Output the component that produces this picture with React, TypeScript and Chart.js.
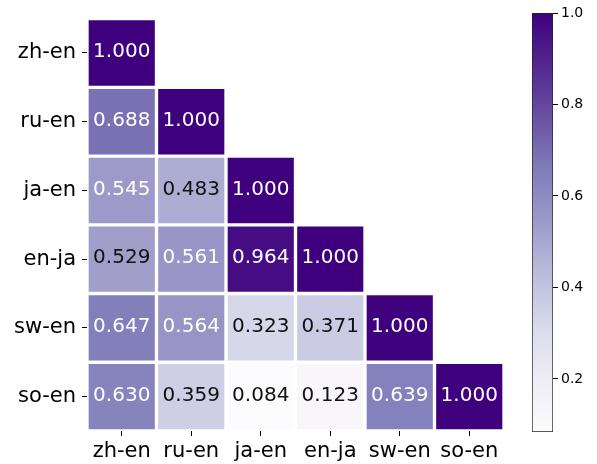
import React, { useEffect, useRef } from "react";
import { Chart, registerables } from "chart.js";

Chart.register(...registerables);

const categories = ["zh-en", "ru-en", "ja-en", "en-ja", "sw-en", "so-en"];
const zhEn = [1.0];
const ruEn = [0.688, 1.0];
const jaEn = [0.545, 0.483, 1.0];
const enJa = [0.529, 0.561, 0.964, 1.0];
const swEn = [0.647, 0.564, 0.323, 0.371, 1.0];
const soEn = [0.63, 0.359, 0.084, 0.123, 0.639, 1.0];
const rows = [zhEn, ruEn, jaEn, enJa, swEn, soEn];

const cbMin = 0.084;
const cbMax = 1.0;
const cbTicks = [0.2, 0.4, 0.6, 0.8, 1.0];

const purples = [
  "#fcfbfd",
  "#efedf5",
  "#dadaeb",
  "#bcbddc",
  "#9e9ac8",
  "#807dba",
  "#6a51a3",
  "#54278f",
  "#3f007d",
];

function hexToRgb(h: string) {
  return [
    parseInt(h.slice(1, 3), 16),
    parseInt(h.slice(3, 5), 16),
    parseInt(h.slice(5, 7), 16),
  ];
}

function colorRgb(v: number) {
  let t = (v - cbMin) / (cbMax - cbMin);
  t = Math.max(0, Math.min(1, t));
  const pos = t * (purples.length - 1);
  const i = Math.min(purples.length - 2, Math.floor(pos));
  const f = pos - i;
  const a = hexToRgb(purples[i]);
  const b = hexToRgb(purples[i + 1]);
  return a.map((c, k) => c + (b[k] - c) * f);
}

function colorOf(v: number) {
  const [r, g, b] = colorRgb(v);
  return `rgb(${Math.round(r)},${Math.round(g)},${Math.round(b)})`;
}

function lum(v: number) {
  const rgb = colorRgb(v).map((c) => {
    const x = c / 255;
    return x <= 0.03928 ? x / 12.92 : Math.pow((x + 0.055) / 1.055, 2.4);
  });
  return 0.2126 * rgb[0] + 0.7152 * rgb[1] + 0.0722 * rgb[2];
}

const FONT = "DejaVu Sans";

const textPlugin = {
  id: "cellText",
  afterDatasetsDraw(chart: any) {
    const ctx = chart.ctx;
    ctx.save();
    ctx.font = `20px "${FONT}"`;
    ctx.textAlign = "center";
    ctx.textBaseline = "middle";
    chart.data.datasets.forEach((ds: any, di: number) => {
      const meta = chart.getDatasetMeta(di);
      meta.data.forEach((el: any, i: number) => {
        const v = ds.values[i];
        if (v == null) return;
        const cx = el.x;
        const cy = (el.y + el.base) / 2;
        ctx.fillStyle = lum(v) > 0.352 ? "#111111" : "#ffffff";
        ctx.fillText(v.toFixed(3), cx, cy - 1);
      });
    });
    ctx.restore();
  },
};

export default function App() {
  const heatRef = useRef<HTMLCanvasElement>(null);
  const cbRef = useRef<HTMLCanvasElement>(null);

  useEffect(() => {
    const datasets = rows.map((row, r) => ({
      label: categories[r],
      data: categories.map((_, c) => (c < row.length ? [r - 0.5, r + 0.5] : null)),
      values: categories.map((_, c) => (c < row.length ? row[c] : null)),
      backgroundColor: categories.map((_, c) => (c < row.length ? colorOf(row[c]) : "rgba(0,0,0,0)")),
      borderColor: "#ffffff",
      borderWidth: 2,
      borderSkipped: false,
      grouped: false,
      categoryPercentage: 1,
      barPercentage: 1,
    }));

    const heat = new Chart(heatRef.current as HTMLCanvasElement, {
      type: "bar",
      data: { labels: categories, datasets: datasets as any },
      plugins: [textPlugin],
      options: {
        animation: false,
        responsive: true,
        maintainAspectRatio: false,
        layout: { padding: { left: 0, top: 14, right: 93, bottom: 0 } },
        plugins: { legend: { display: false }, tooltip: { enabled: false } },
        scales: {
          x: {
            type: "category",
            offset: true,
            afterFit: (s: any) => {
              s.height = 33;
            },
            grid: {
              offset: false,
              drawOnChartArea: false,
              drawTicks: true,
              tickLength: 5,
              color: "#000",
              tickWidth: 1,
            },
            border: { display: false },
            ticks: { color: "#000", font: { family: FONT, size: 21 }, padding: 3, maxRotation: 0 },
          },
          y: {
            type: "linear",
            reverse: true,
            min: -0.5,
            max: 5.5,
            afterBuildTicks: (s: any) => {
              s.ticks = categories.map((_, i) => ({ value: i }));
            },
            afterFit: (s: any) => {
              s.width = 87;
            },
            grid: {
              drawOnChartArea: false,
              drawTicks: true,
              tickLength: 5,
              color: "#000",
              tickWidth: 1,
            },
            border: { display: false },
            ticks: {
              color: "#000",
              font: { family: FONT, size: 21 },
              padding: 6,
              callback: (v: any) => categories[v as number] ?? "",
            },
          },
        },
      } as any,
    });

    const cb = new Chart(cbRef.current as HTMLCanvasElement, {
      type: "bar",
      data: {
        labels: [""],
        datasets: [
          {
            data: [[cbMin, cbMax]] as any,
            backgroundColor: (c: any) => {
              const a = c.chart.chartArea;
              if (!a) return purples[8];
              const g = c.chart.ctx.createLinearGradient(0, a.bottom, 0, a.top);
              purples.forEach((col, i) => g.addColorStop(i / (purples.length - 1), col));
              return g;
            },
            borderColor: "#222",
            borderWidth: 1,
            borderSkipped: false,
            categoryPercentage: 1,
            barPercentage: 1,
          },
        ],
      },
      options: {
        animation: false,
        responsive: true,
        maintainAspectRatio: false,
        layout: { padding: { left: 532, top: 13, right: 0, bottom: 32 } },
        plugins: { legend: { display: false }, tooltip: { enabled: false } },
        scales: {
          x: { display: false },
          y: {
            type: "linear",
            position: "right",
            min: cbMin,
            max: cbMax,
            afterBuildTicks: (s: any) => {
              s.ticks = cbTicks.map((v) => ({ value: v }));
            },
            afterFit: (s: any) => {
              s.width = 44;
            },
            grid: {
              drawOnChartArea: false,
              drawTicks: true,
              tickLength: 5,
              color: "#000",
              tickWidth: 1,
            },
            border: { display: false },
            ticks: {
              color: "#000",
              font: { family: FONT, size: 14 },
              padding: 3,
              callback: (v: any) => Number(v).toFixed(1),
            },
          },
        },
      } as any,
    });

    return () => {
      heat.destroy();
      cb.destroy();
    };
  }, []);

  const box: React.CSSProperties = { position: "absolute", left: 0, top: 0, width: 597, height: 464 };
  return (
    <div style={{ position: "fixed", left: 0, top: 0, width: 597, height: 464, background: "#fff" }}>
      <div style={box}>
        <canvas ref={heatRef} />
      </div>
      <div style={{ ...box, pointerEvents: "none" }}>
        <canvas ref={cbRef} />
      </div>
    </div>
  );
}
